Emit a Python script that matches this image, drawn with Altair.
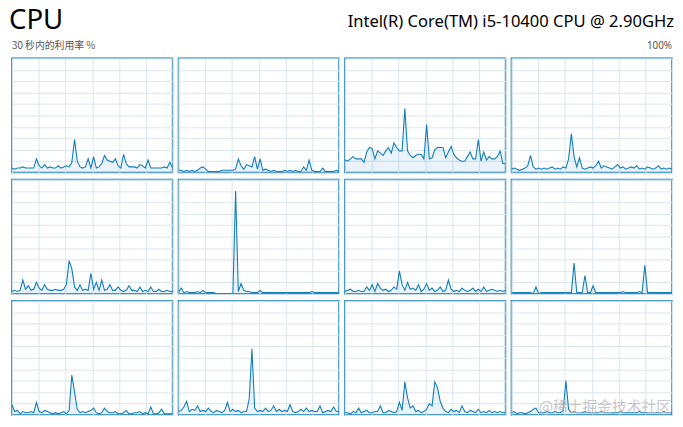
import altair as alt
import pandas as pd

# ---- data (CPU utilisation %, 60 samples per logical processor) ----
cpu0 = [4,3,4,4,5,4,4,4,4,12,6,4,7,4,5,4,4,6,4,5,6,5,9,29,10,5,4,5,12,4,14,4,5,8,15,11,10,9,12,6,4,16,8,5,5,5,4,7,6,4,11,4,4,4,4,4,5,4,9,4]
cpu1 = [2,2,1,2,1,2,1,2,4,5,3,1,1,1,1,1,2,2,2,2,2,3,12,6,3,7,6,5,14,3,12,2,3,2,1,2,1,1,1,2,1,2,1,2,1,1,5,2,11,2,1,1,1,4,1,1,1,1,2,1]
cpu2 = [11,10,12,14,12,12,12,9,18,22,21,12,19,17,15,19,22,17,26,22,19,19,56,19,15,13,15,16,16,12,42,12,13,20,22,22,22,13,18,23,16,13,11,10,10,14,18,12,12,29,10,18,11,14,12,12,14,19,8,8]
cpu3 = [3,4,3,2,3,4,6,15,5,3,4,3,4,3,4,5,3,4,3,5,4,12,34,14,5,13,4,3,4,5,4,6,10,4,6,5,4,3,5,7,4,5,3,4,5,4,6,3,4,3,5,4,3,4,6,3,4,3,4,3]
cpu4 = [2,3,2,3,12,4,7,3,4,10,5,3,8,4,3,3,4,3,3,4,8,29,22,6,3,8,3,4,3,18,4,10,3,12,3,4,8,3,3,6,3,2,3,7,3,3,2,6,2,3,2,6,2,2,4,2,2,3,2,2]
cpu5 = [1,5,1,2,1,1,1,2,1,3,1,1,1,1,0,0,0,0,0,0,0,90,2,9,3,2,2,1,1,1,3,1,1,1,1,1,1,1,1,1,1,1,1,1,1,1,1,1,1,2,1,1,1,1,1,1,1,1,1,1]
cpu6 = [2,3,4,2,2,3,2,2,6,3,8,2,9,5,3,4,2,3,6,4,20,8,3,10,4,5,3,8,2,4,9,3,5,2,3,6,2,3,12,4,2,3,2,5,3,2,3,5,2,4,2,6,2,3,4,3,2,3,2,3]
cpu7 = [1,1,1,1,1,1,1,1,0,6,0,1,1,1,1,1,1,1,1,1,1,1,1,27,1,1,1,16,1,1,7,1,1,1,1,1,1,1,1,1,1,2,1,1,1,1,1,2,1,25,1,1,1,1,1,1,1,1,1,1]
cpu8 = [9,3,4,1,3,2,2,3,2,11,3,2,4,3,2,1,2,1,2,3,1,4,35,20,5,2,3,2,3,4,6,2,1,2,6,3,2,2,3,1,1,2,4,1,1,2,2,3,1,2,1,7,1,1,2,5,1,1,1,1]
cpu9 = [3,4,7,12,3,5,4,8,3,4,3,6,3,2,4,3,2,4,11,3,5,3,4,2,3,3,14,58,6,3,4,3,6,3,4,8,3,5,3,4,3,9,3,2,3,5,3,6,3,4,3,3,8,2,3,4,3,7,3,3]
cpu10 = [2,2,1,3,2,6,2,3,4,2,2,3,3,8,2,2,4,3,2,3,11,4,29,15,6,8,3,4,2,3,5,10,8,29,24,12,6,3,2,5,3,4,2,8,3,2,4,3,2,5,2,3,2,4,2,3,2,3,2,2]
cpu11 = [2,3,1,2,2,1,2,3,5,6,2,2,2,3,2,2,3,2,2,4,30,5,2,3,2,2,2,3,2,2,2,2,2,3,2,2,2,2,2,2,3,2,2,2,2,2,2,3,2,2,2,2,2,2,2,2,3,2,2,2]

series = [cpu0, cpu1, cpu2, cpu3, cpu4, cpu5, cpu6, cpu7, cpu8, cpu9, cpu10, cpu11]

title_text = "CPU"
model_text = "Intel(R) Core(TM) i5-10400 CPU @ 2.90GHz"
sub_left = "30 秒内的利用率 %"
sub_right = "100%"
watermark = "@稀土掘金技术社区"

BLUE = "#117DBB"
GRID = "#D9E6EF"
PW, PH = 163, 116
N = 60

x_grid = [N - 1 - (N - 1) * k / 6 for k in range(7)]
y_grid = list(range(0, 101, 10))

xenc = alt.X("t:Q", scale=alt.Scale(domain=[0, N - 1], nice=False, zero=False),
             axis=alt.Axis(values=x_grid, labels=False, ticks=False, domain=False,
                           title=None, grid=True, gridColor=GRID, gridWidth=1))
yenc = alt.Y("v:Q", scale=alt.Scale(domain=[0, 100], nice=False),
             axis=alt.Axis(values=y_grid, labels=False, ticks=False, domain=False,
                           title=None, grid=True, gridColor=GRID, gridWidth=1))


def panel(i):
    df = pd.DataFrame({"t": list(range(N)), "v": series[i]})
    base = alt.Chart(df)
    area = base.mark_area(color=BLUE, opacity=0.09, clip=True).encode(x=xenc, y=yenc)
    line = base.mark_line(color=BLUE, strokeWidth=1.1, clip=True).encode(x=xenc, y=yenc)
    layers = [area, line]
    if i == 11:
        wm = base.transform_filter(alt.datum.t == 0).mark_text(
            align="left", baseline="alphabetic", fontSize=15, color="#B8B8B8",
            opacity=0.75, font="Noto Sans CJK SC"
        ).encode(text=alt.value(watermark), x=alt.value(28), y=alt.value(113))
        layers.append(wm)
    return alt.layer(*layers).properties(width=PW, height=PH)


one = pd.DataFrame({"k": [0]})
hdr = alt.Chart(one)
h_cpu = hdr.mark_text(align="left", baseline="top", fontSize=28, font="Noto Sans",
                      color="#000000").encode(text=alt.value(title_text), x=alt.value(-3), y=alt.value(0))
h_model = hdr.mark_text(align="right", baseline="top", fontSize=16.8, font="Noto Sans",
                        color="#000000").encode(text=alt.value(model_text), x=alt.value(672), y=alt.value(7))
h_sl = hdr.mark_text(align="left", baseline="top", fontSize=10, font="Noto Sans CJK SC",
                     color="#555555").encode(text=alt.value(sub_left), x=alt.value(0), y=alt.value(35))
h_sr = hdr.mark_text(align="right", baseline="top", fontSize=10, font="Noto Sans",
                     color="#555555").encode(text=alt.value(sub_right), x=alt.value(670), y=alt.value(35))
header = alt.layer(h_cpu, h_model, h_sl, h_sr).properties(
    width=4 * PW + 3 * 4, height=44, view=alt.ViewBackground(stroke="transparent"))

rows = [alt.hconcat(*[panel(r * 4 + c) for c in range(4)], spacing=4) for r in range(3)]

chart = alt.vconcat(header, *rows, spacing=5).properties(
    padding={"left": 0, "top": -5, "right": 0, "bottom": 0},
    background="white",
).configure_view(stroke=BLUE, strokeWidth=1.5)

chart.save("out.html", embed_options={"renderer": "svg", "actions": False})
